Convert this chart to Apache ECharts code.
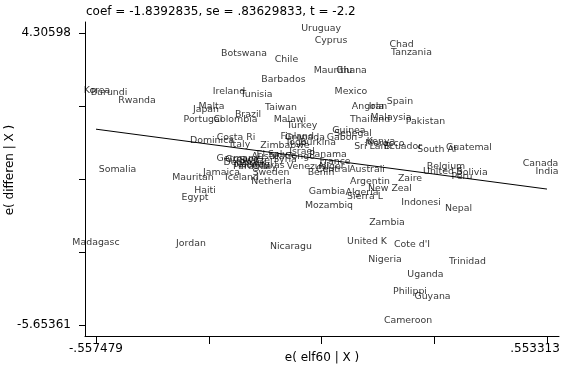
<!DOCTYPE html>
<html><head><meta charset="utf-8">
<script src="https://cdn.jsdelivr.net/npm/echarts@6/dist/echarts.min.js"></script>
<style>html,body{margin:0;padding:0;background:#fff}#c{width:566px;height:377px}</style>
</head><body><div id="c"></div>
<script>
var titleText = "coef = -1.8392835, se = .83629833, t = -2.2";
var xTitle = "e( elf60 | X )";
var yTitle = "e( differen | X )";
var xTickVals = [-0.557479, -0.279781, -0.002083, 0.275615, 0.553313];
var xLabelVals = [-0.557479, 0.553313];
var xLabelText = ["-.557479", ".553313"];
var yTickVals = [-5.65361, -3.16371, -0.67381, 1.81609, 4.30598];
var yLabelVals = [-5.65361, 4.30598];
var yLabelText = ["-5.65361", "4.30598"];
var fitX = [-0.557479, 0.553313];
var fitY = [1.0254, -1.0177];

var countries = ["Uruguay","Cyprus","Chad","Tanzania","Botswana","Chile","Mauritiu","Ghana","Barbados","Korea",
"Burundi","Mexico","Ireland","Tunisia","Rwanda","Spain","Angola","Iran","Malta","Taiwan",
"Japan","Brazil","Thailand","Malaysia","Pakistan","Portugal","Colombia","Malawi","Turkey","Guinea",
"Senegal","Gabon","Finland","Grenada","Costa Ri","Dominica","Burkina","Togo","Kenya","Italy",
"Zimbabwe","Ecuador","Sri Lank","Guatemal","South Af","Israel","Panama","Congo","France","Venezuel",
"Niger","Central","Benin","Australi","Argentin","Zaire","New Zeal","Gambia","Algeria","Sierra L",
"Mozambiq","Indonesi","Nepal","Zambia","United K","Cote d'I","Nigeria","Trinidad","Uganda","Philippi",
"Guyana","Cameroon","Madagasc","Jordan","Nicaragu","Somalia","Mauritan","Jamaica","Iceland","Sweden",
"Netherla","Haiti","Egypt","Canada","India","Belgium","United S","Peru","Bolivia","Germany",
"Greece","Denmark","Norway","Paraguay","Honduras","Austria","El Salva","Syria","Switzerl","Morocco"];
var xVals = [-0.003,0.0213,0.195,0.2196,-0.193,-0.0883,0.0262,0.0718,-0.0957,-0.555,
-0.5255,0.0705,-0.2299,-0.1622,-0.4565,0.1912,0.1124,0.137,-0.273,-0.1018,
-0.2866,-0.1831,0.1174,0.169,0.254,-0.294,-0.2139,-0.0797,-0.0501,0.0656,
0.0755,0.0484,-0.062,-0.043,-0.2127,-0.2718,-0.0107,-0.0649,0.1445,-0.2028,
-0.092,0.1986,0.1248,0.3612,0.2824,-0.0501,0.0139,-0.055,0.0312,-0.0354,
0.0237,0.0262,-0.0033,0.11,0.1174,0.2159,0.1666,0.0115,0.0977,0.1051,
0.0164,0.243,0.3353,0.1592,0.11,0.2208,0.1543,0.3575,0.254,0.2159,
0.2713,0.211,-0.5575,-0.3235,-0.0772,-0.5045,-0.3186,-0.2484,-0.1979,-0.1265,
-0.1253,-0.289,-0.3137,0.5373,0.5533,0.3046,0.297,0.3439,0.3686,-0.2078,
-0.1979,-0.1905,-0.1733,-0.1659,-0.1487,-0.1339,-0.1166,-0.092,-0.1585,0.154];
var yVals = [4.306,3.897,3.760,3.487,3.453,3.249,2.874,2.874,2.567,2.191,
2.123,2.157,2.157,2.055,1.850,1.816,1.646,1.646,1.646,1.612,
1.544,1.373,1.202,1.271,1.134,1.202,1.202,1.202,1.0,0.827,
0.725,0.589,0.623,0.589,0.589,0.469,0.418,0.418,0.452,0.350,
0.316,0.282,0.265,0.247,0.179,0.111,0.009,-0.059,-0.230,-0.400,
-0.400,-0.503,-0.605,-0.503,-0.912,-0.810,-1.151,-1.253,-1.287,-1.424,
-1.731,-1.628,-1.833,-2.310,-2.958,-3.060,-3.572,-3.640,-4.084,-4.664,
-4.835,-5.6536,-2.993,-3.027,-3.129,-0.503,-0.776,-0.605,-0.776,-0.605,
-0.912,-1.219,-1.458,-0.298,-0.571,-0.400,-0.571,-0.741,-0.605,-0.128,
-0.162,-0.264,-0.332,-0.400,-0.366,-0.059,0.009,-0.162,-0.196,0.384];

var FONT = "DejaVu Sans";
var pts = countries.map(function(n,i){ return {name:n, value:[xVals[i], yVals[i]]}; });
function lab(vals, texts, lastRich){ return function(v){ for (var i=0;i<vals.length;i++){ if (Math.abs(vals[i]-v)<1e-6) return (lastRich && i===vals.length-1) ? '{r|'+texts[i]+'}' : texts[i]; } return ''; }; }

var chart = echarts.init(document.getElementById('c'), null, {renderer:'canvas'});
chart.setOption({
  animation:false,
  backgroundColor:'#fff',
  title:{text:titleText, left:81, top:1, textStyle:{fontFamily:FONT, fontSize:12, fontWeight:'normal', color:'#000'}},
  grid:{left:85, right:7, top:22, bottom:41},
  xAxis:{type:'value', min:-0.5846, max:0.5829,
    splitLine:{show:false},
    axisLine:{show:true, onZero:false, lineStyle:{color:'#000', width:1}},
    axisTick:{show:true, customValues:xTickVals, length:8, lineStyle:{color:'#000'}},
    axisLabel:{customValues:xLabelVals, formatter:lab(xLabelVals,xLabelText,true), margin:7, fontFamily:FONT, fontSize:12, color:'#000',
      rich:{r:{fontFamily:FONT, fontSize:12, color:'#000', padding:[0,24,0,0]}}},
    name:xTitle, nameLocation:'middle', nameGap:16, nameMoveOverlap:false, nameTextStyle:{fontFamily:FONT, fontSize:12, color:'#000'}
  },
  yAxis:{type:'value', min:-6.029, max:4.681,
    splitLine:{show:false},
    axisLine:{show:true, onZero:false, lineStyle:{color:'#000', width:1}},
    axisTick:{show:true, customValues:yTickVals, length:6, lineStyle:{color:'#000'}},
    axisLabel:{customValues:yLabelVals, formatter:lab(yLabelVals,yLabelText,false), margin:14, fontFamily:FONT, fontSize:12, color:'#000'}
  },
  graphic:[{type:'text', x:10, y:170, rotation:Math.PI/2,
    style:{text:yTitle, fontFamily:FONT, fontSize:12, fill:'#000', align:'center', verticalAlign:'middle'}}],
  series:[
    {type:'line', data:[[fitX[0],fitY[0]],[fitX[1],fitY[1]]], symbol:'none', silent:true,
      lineStyle:{color:'#000', width:1}},
    {type:'scatter', data:pts, symbolSize:0, silent:true,
      label:{show:true, formatter:'{b}', position:'top', distance:0, fontFamily:FONT, fontSize:9.4, color:'#000'},
      labelLayout:{hideOverlap:false}}
  ]
});
</script></body></html>
